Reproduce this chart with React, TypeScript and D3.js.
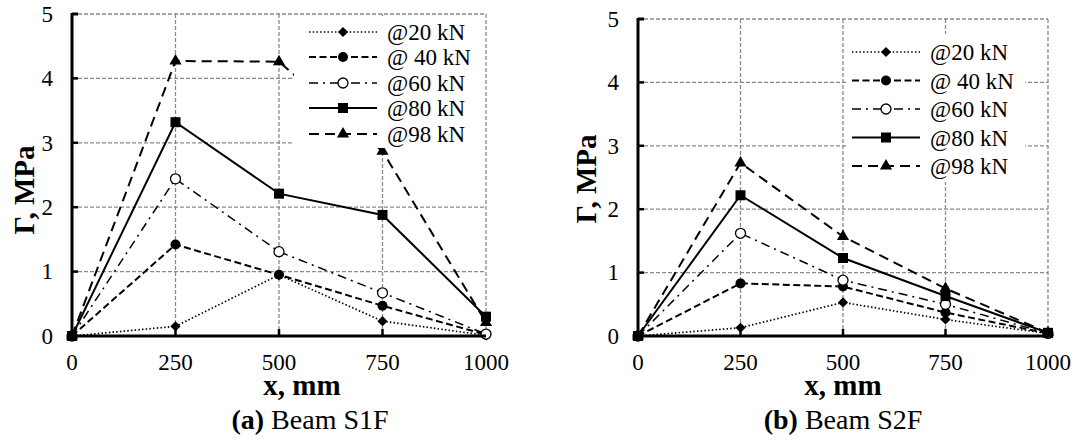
import React from "react";
import * as d3 from "d3";

const xPositions = [0, 250, 500, 750, 1000];
const xTicks = [0, 250, 500, 750, 1000];
const yTicks = [0, 1, 2, 3, 4, 5];
const seriesLabels = ["@20 kN", "@ 40 kN", "@60 kN", "@80 kN", "@98 kN"];

const s1f_20 = [0, 0.15, 0.95, 0.23, 0.01];
const s1f_40 = [0, 1.42, 0.95, 0.47, 0.02];
const s1f_60 = [0, 2.44, 1.31, 0.67, 0.03];
const s1f_80 = [0, 3.32, 2.21, 1.88, 0.3];
const s1f_98 = [0, 4.27, 4.26, 2.87, 0.21];

const s2f_20 = [0, 0.13, 0.53, 0.26, 0.04];
const s2f_40 = [0, 0.83, 0.78, 0.37, 0.04];
const s2f_60 = [0, 1.62, 0.88, 0.5, 0.04];
const s2f_80 = [0, 2.22, 1.23, 0.63, 0.05];
const s2f_98 = [0, 2.73, 1.57, 0.75, 0.05];

const FONT = '"Liberation Serif", "Times New Roman", Times, Tinos, "DejaVu Serif", serif';

type Style = { dash: string; width: number; marker: string };
const styles: Style[] = [
  { dash: "1.5,2.2", width: 1.7, marker: "diamond" },
  { dash: "7,3.5", width: 2, marker: "circle" },
  { dash: "9,5,2,5", width: 1.5, marker: "open" },
  { dash: "none", width: 2, marker: "square" },
  { dash: "10,6", width: 2, marker: "triangle" },
];

function Marker({ type, x, y }: { type: string; x: number; y: number }) {
  if (type === "diamond")
    return <rect x={-3.6} y={-3.6} width={7.2} height={7.2} fill="#000" transform={`translate(${x},${y}) rotate(45)`} />;
  if (type === "circle") return <circle cx={x} cy={y} r={5} fill="#000" />;
  if (type === "open")
    return <circle cx={x} cy={y} r={5} fill="#fff" stroke="#000" strokeWidth={1.3} />;
  if (type === "square") return <rect x={x - 5} y={y - 5} width={10} height={10} fill="#000" />;
  const p = d3.symbol(d3.symbolTriangle, 64)();
  return <path d={p || ""} transform={`translate(${x},${y})`} fill="#000" />;
}

type PanelProps = {
  left: number;
  right: number;
  top: number;
  bottom: number;
  series: number[][];
  legendBox: [number, number, number, number];
  legendRows: number[];
  legendLine: [number, number];
  legendText: number;
  yTitleX: number;
  yTitleY: number;
  xTitleX: number;
  captionX: number;
  letter: string;
  beam: string;
};

function Panel(p: PanelProps) {
  const x = d3.scaleLinear().domain([0, 1000]).range([p.left, p.right]);
  const y = d3.scaleLinear().domain([0, 5]).range([p.bottom, p.top]);
  const line = d3
    .line<number>()
    .x((_, i) => x(xPositions[i]))
    .y((d) => y(d));
  const grid = "#8a8a8a";
  return (
    <g>
      {yTicks.filter((t) => t > 0).map((t) => (
        <line key={"gy" + t} x1={p.left} x2={p.right} y1={y(t)} y2={y(t)} stroke={grid} strokeWidth={1.3} strokeDasharray="4,2" />
      ))}
      {xTicks.filter((t) => t > 0).map((t) => (
        <line key={"gx" + t} x1={x(t)} x2={x(t)} y1={p.top} y2={p.bottom} stroke={grid} strokeWidth={1.3} strokeDasharray="4,2" />
      ))}
      {p.series.map((s, i) => (
        <path key={"s" + i} d={line(s) || ""} fill="none" stroke="#000" strokeWidth={styles[i].width} strokeDasharray={styles[i].dash} />
      ))}
      {p.series.map((s, i) =>
        s.map((v, j) => <Marker key={`m${i}-${j}`} type={styles[i].marker} x={x(xPositions[j])} y={y(v)} />)
      )}
      <line x1={p.left} x2={p.left} y1={p.top - 1} y2={p.bottom + 1.5} stroke="#000" strokeWidth={3} />
      <line x1={p.left - 1.5} x2={p.right} y1={p.bottom} y2={p.bottom} stroke="#000" strokeWidth={3} />
      <line x1={p.left} x2={p.left + 6} y1={p.top} y2={p.top} stroke="#000" strokeWidth={3} />
      {yTicks.filter((t) => t > 0 && t < 5).map((t) => (
        <line key={"ty" + t} x1={p.left} x2={p.left + 6} y1={y(t)} y2={y(t)} stroke="#000" strokeWidth={2.5} />
      ))}
      {xTicks.filter((t) => t > 0 && t < 1000).map((t) => (
        <line key={"tx" + t} x1={x(t)} x2={x(t)} y1={p.bottom} y2={p.bottom - 7} stroke="#000" strokeWidth={2.5} />
      ))}
      {yTicks.map((t) => (
        <text key={"ly" + t} x={p.left - 19} y={y(t)} dy="0.34em" textAnchor="end" style={{ fontFamily: FONT }} fontSize={23}>
          {t}
        </text>
      ))}
      {xTicks.map((t) => (
        <text key={"lx" + t} x={x(t)} y={370} textAnchor="middle" style={{ fontFamily: FONT }} fontSize={23}>
          {t}
        </text>
      ))}
      <rect x={p.legendBox[0]} y={p.legendBox[1]} width={p.legendBox[2] - p.legendBox[0]} height={p.legendBox[3] - p.legendBox[1]} fill="#fff" />
      {seriesLabels.map((lab, i) => {
        const ry = p.legendRows[i];
        const mx = (p.legendLine[0] + p.legendLine[1]) / 2;
        return (
          <g key={"lg" + i}>
            <line x1={p.legendLine[0]} x2={p.legendLine[1]} y1={ry} y2={ry} stroke="#000" strokeWidth={styles[i].width} strokeDasharray={styles[i].dash} />
            <Marker type={styles[i].marker} x={mx} y={ry} />
            <text x={p.legendText} y={ry} dy="0.35em" style={{ fontFamily: FONT }} fontSize={23}>
              {lab}
            </text>
          </g>
        );
      })}
      <text transform={`translate(${p.yTitleX},${p.yTitleY}) rotate(-90)`} textAnchor="middle" style={{ fontFamily: FONT }} fontSize={29} fontWeight="bold">
        Γ, MPa
      </text>
      <text x={p.xTitleX} y={395} textAnchor="middle" style={{ fontFamily: FONT }} fontSize={29} fontWeight="bold">
        x, mm
      </text>
      <text x={p.captionX} y={429} textAnchor="middle" style={{ fontFamily: FONT }} fontSize={28}>
        <tspan fontWeight="bold">({p.letter})</tspan> {p.beam}
      </text>
    </g>
  );
}

export default function App() {
  return (
    <svg width={1075} height={441} style={{ position: "absolute", left: 0, top: 0, background: "#fff" }}>
      <rect width={1075} height={441} fill="#fff" />
      <Panel
        left={72}
        right={486}
        top={14}
        bottom={336}
        series={[s1f_20, s1f_40, s1f_60, s1f_80, s1f_98]}
        legendBox={[294, 16, 484, 148]}
        legendRows={[32, 57, 83, 108, 134]}
        legendLine={[309, 377]}
        legendText={387}
        yTitleX={34}
        yTitleY={190}
        xTitleX={302}
        captionX={310}
        letter="a"
        beam="Beam S1F"
      />
      <Panel
        left={638}
        right={1048}
        top={19}
        bottom={336}
        series={[s2f_20, s2f_40, s2f_60, s2f_80, s2f_98]}
        legendBox={[846, 34, 1025, 182]}
        legendRows={[52, 80.5, 109, 137.5, 166]}
        legendLine={[852, 920]}
        legendText={930}
        yTitleX={596}
        yTitleY={179}
        xTitleX={843}
        captionX={843}
        letter="b"
        beam="Beam S2F"
      />
    </svg>
  );
}
